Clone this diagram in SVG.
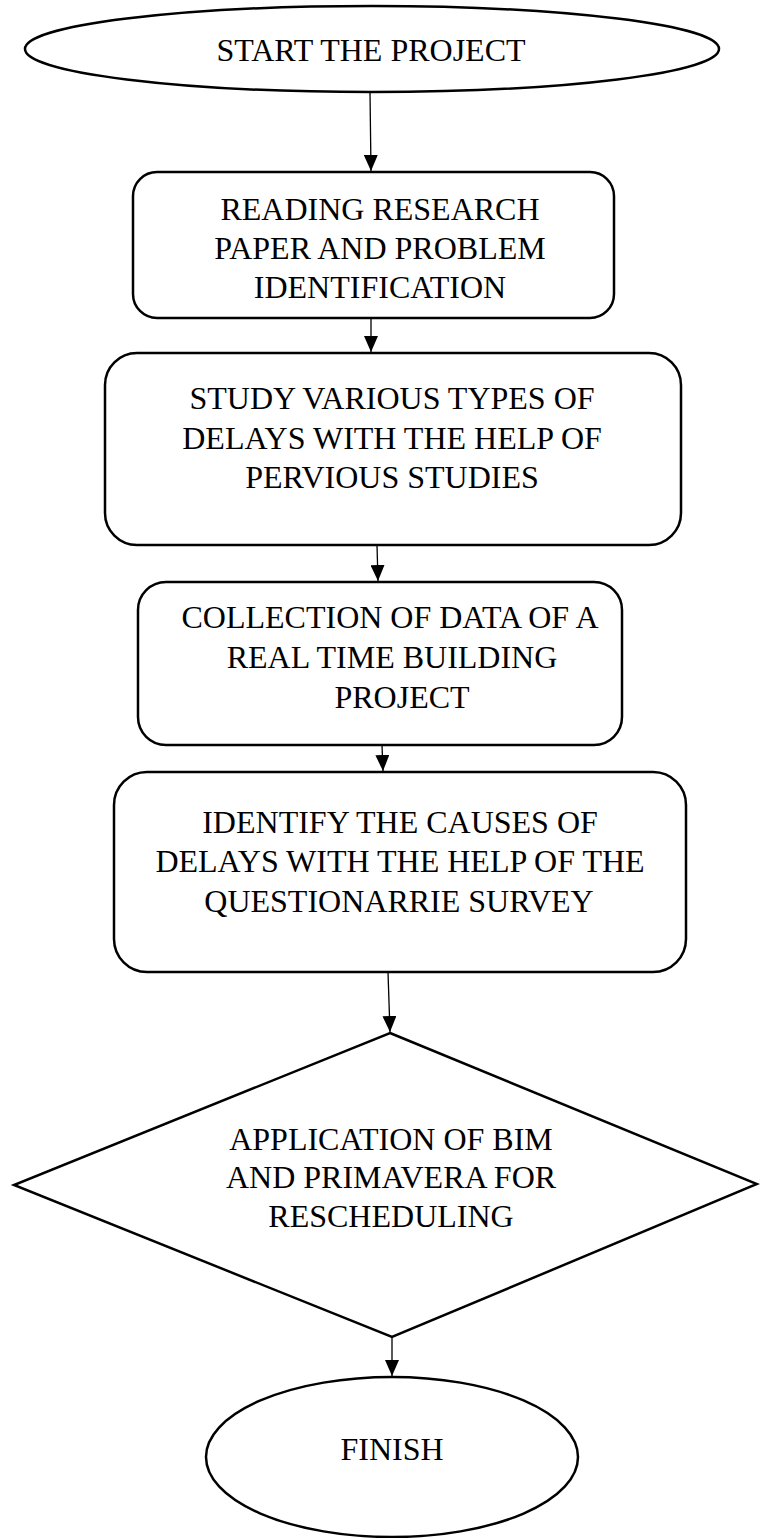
<svg xmlns="http://www.w3.org/2000/svg" width="760" height="1538" viewBox="0 0 760 1538">
  <style>
    .shape { fill: #ffffff; stroke: #000000; stroke-width: 2.5; }
    .label { font-family: "Liberation Serif", "Times New Roman", serif; font-size: 32px; fill: #000000; text-anchor: middle; }
    .link { stroke: #000000; stroke-width: 1.3; fill: none; marker-end: url(#arrow); }
  </style>
  <defs>
    <!-- filled triangular arrowhead, tip at the end of the line -->
    <marker id="arrow" markerUnits="userSpaceOnUse" viewBox="0 0 16 14" markerWidth="16" markerHeight="14" refX="16" refY="7" orient="auto">
      <path d="M0,0 L16,7 L0,14 Z" fill="#000000"/>
    </marker>
  </defs>
  <rect width="760" height="1538" fill="#ffffff"/>

  <g id="connectors">
    <line class="link" x1="370" y1="92" x2="371" y2="171"/>
    <line class="link" x1="371" y1="318" x2="371" y2="352"/>
    <line class="link" x1="377" y1="545" x2="378" y2="581"/>
    <line class="link" x1="382" y1="745" x2="383" y2="771"/>
    <line class="link" x1="388" y1="972" x2="390" y2="1032"/>
    <line class="link" x1="392" y1="1337" x2="392" y2="1376"/>
  </g>

  <g id="start">
    <ellipse class="shape" cx="372" cy="49" rx="347" ry="43"/>
    <text class="label" x="371" y="61">START THE PROJECT</text>
  </g>

  <g id="reading">
    <rect class="shape" x="133" y="172" width="481" height="146" rx="24" ry="24"/>
    <text class="label" x="380" y="220">READING RESEARCH</text>
    <text class="label" x="380" y="259">PAPER AND PROBLEM</text>
    <text class="label" x="380" y="298">IDENTIFICATION</text>
  </g>

  <g id="study">
    <rect class="shape" x="105" y="353" width="576" height="192" rx="32" ry="32"/>
    <text class="label" x="392" y="409">STUDY VARIOUS TYPES OF</text>
    <text class="label" x="392" y="449">DELAYS WITH THE HELP OF</text>
    <text class="label" x="392" y="488">PERVIOUS STUDIES</text>
  </g>

  <g id="collection">
    <rect class="shape" x="138" y="582" width="484" height="163" rx="28" ry="28"/>
    <text class="label" x="390" y="628">COLLECTION OF DATA OF A</text>
    <text class="label" x="392" y="668">REAL TIME BUILDING</text>
    <text class="label" x="402" y="708">PROJECT</text>
  </g>

  <g id="identify">
    <rect class="shape" x="114" y="772" width="572" height="200" rx="33" ry="33"/>
    <text class="label" x="400" y="833">IDENTIFY THE CAUSES OF</text>
    <text class="label" x="400" y="872">DELAYS WITH THE HELP OF THE</text>
    <text class="label" x="399" y="912">QUESTIONARRIE SURVEY</text>
  </g>

  <g id="application">
    <polygon class="shape" points="390,1033 757,1184 392,1337 14,1185"/>
    <text class="label" x="391" y="1150">APPLICATION OF BIM</text>
    <text class="label" x="391" y="1188">AND PRIMAVERA FOR</text>
    <text class="label" x="391" y="1227">RESCHEDULING</text>
  </g>

  <g id="finish">
    <ellipse class="shape" cx="392" cy="1457" rx="186" ry="80"/>
    <text class="label" x="392" y="1460">FINISH</text>
  </g>
</svg>
